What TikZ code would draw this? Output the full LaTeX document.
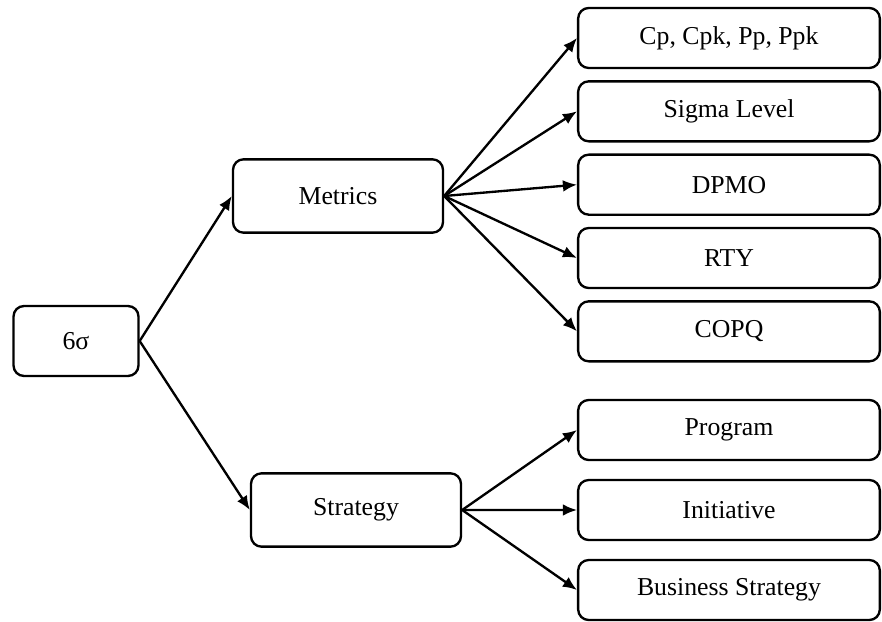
\documentclass[tikz,border=0pt]{standalone}
\usepackage{fontspec}
\setmainfont{Liberation Serif}
\usetikzlibrary{arrows.meta,positioning}

\begin{document}
\begin{tikzpicture}[x=0.03cm,y=-0.03cm,node distance=2.2cm,
    box/.style={draw,line width=2pt,rounded corners=9pt,font=\fontsize{22}{26}\selectfont},
    leaf/.style={box,minimum width=9.05cm,minimum height=1.8cm},
    arr/.style={-{Latex[length=12pt,width=10pt]},line width=2pt}]
      \useasboundingbox (0,0) rectangle (882,622);

      \node [box,minimum width=3.75cm,minimum height=2.1cm] (six) at (76,341) {6σ};
      \node [box,minimum width=6.3cm,minimum height=2.2cm] (met) at (338,196) {Metrics};
      \node [box,minimum width=6.3cm,minimum height=2.2cm] (str) at (356,510) {Strategy};

      \node [leaf] (cp) at (729,38) {Cp, Cpk, Pp, Ppk};
      \node [leaf,below of=cp] (sl) {Sigma Level};
      \node [leaf,below of=sl] (dpmo) {DPMO};
      \node [leaf,below of=dpmo] (rty) {RTY};
      \node [leaf,below of=rty] (copq) {COPQ};

      \node [leaf] (prog) at (729,430) {Program};
      \node [leaf,below of=prog,yshift=-0.2cm] (init) {Initiative};
      \node [leaf,below of=init,yshift=-0.2cm] (bus) {Business Strategy};

      \draw[arr] (six.east) -- (met.west);
      \draw[arr] (six.east) -- (str.west);

      \foreach \t in {cp,sl,dpmo,rty,copq}
        \draw[arr] (met.east) -- (\t.west);
      \foreach \t in {prog,init,bus}
        \draw[arr] (str.east) -- (\t.west);
    \end{tikzpicture}
\end{document}
